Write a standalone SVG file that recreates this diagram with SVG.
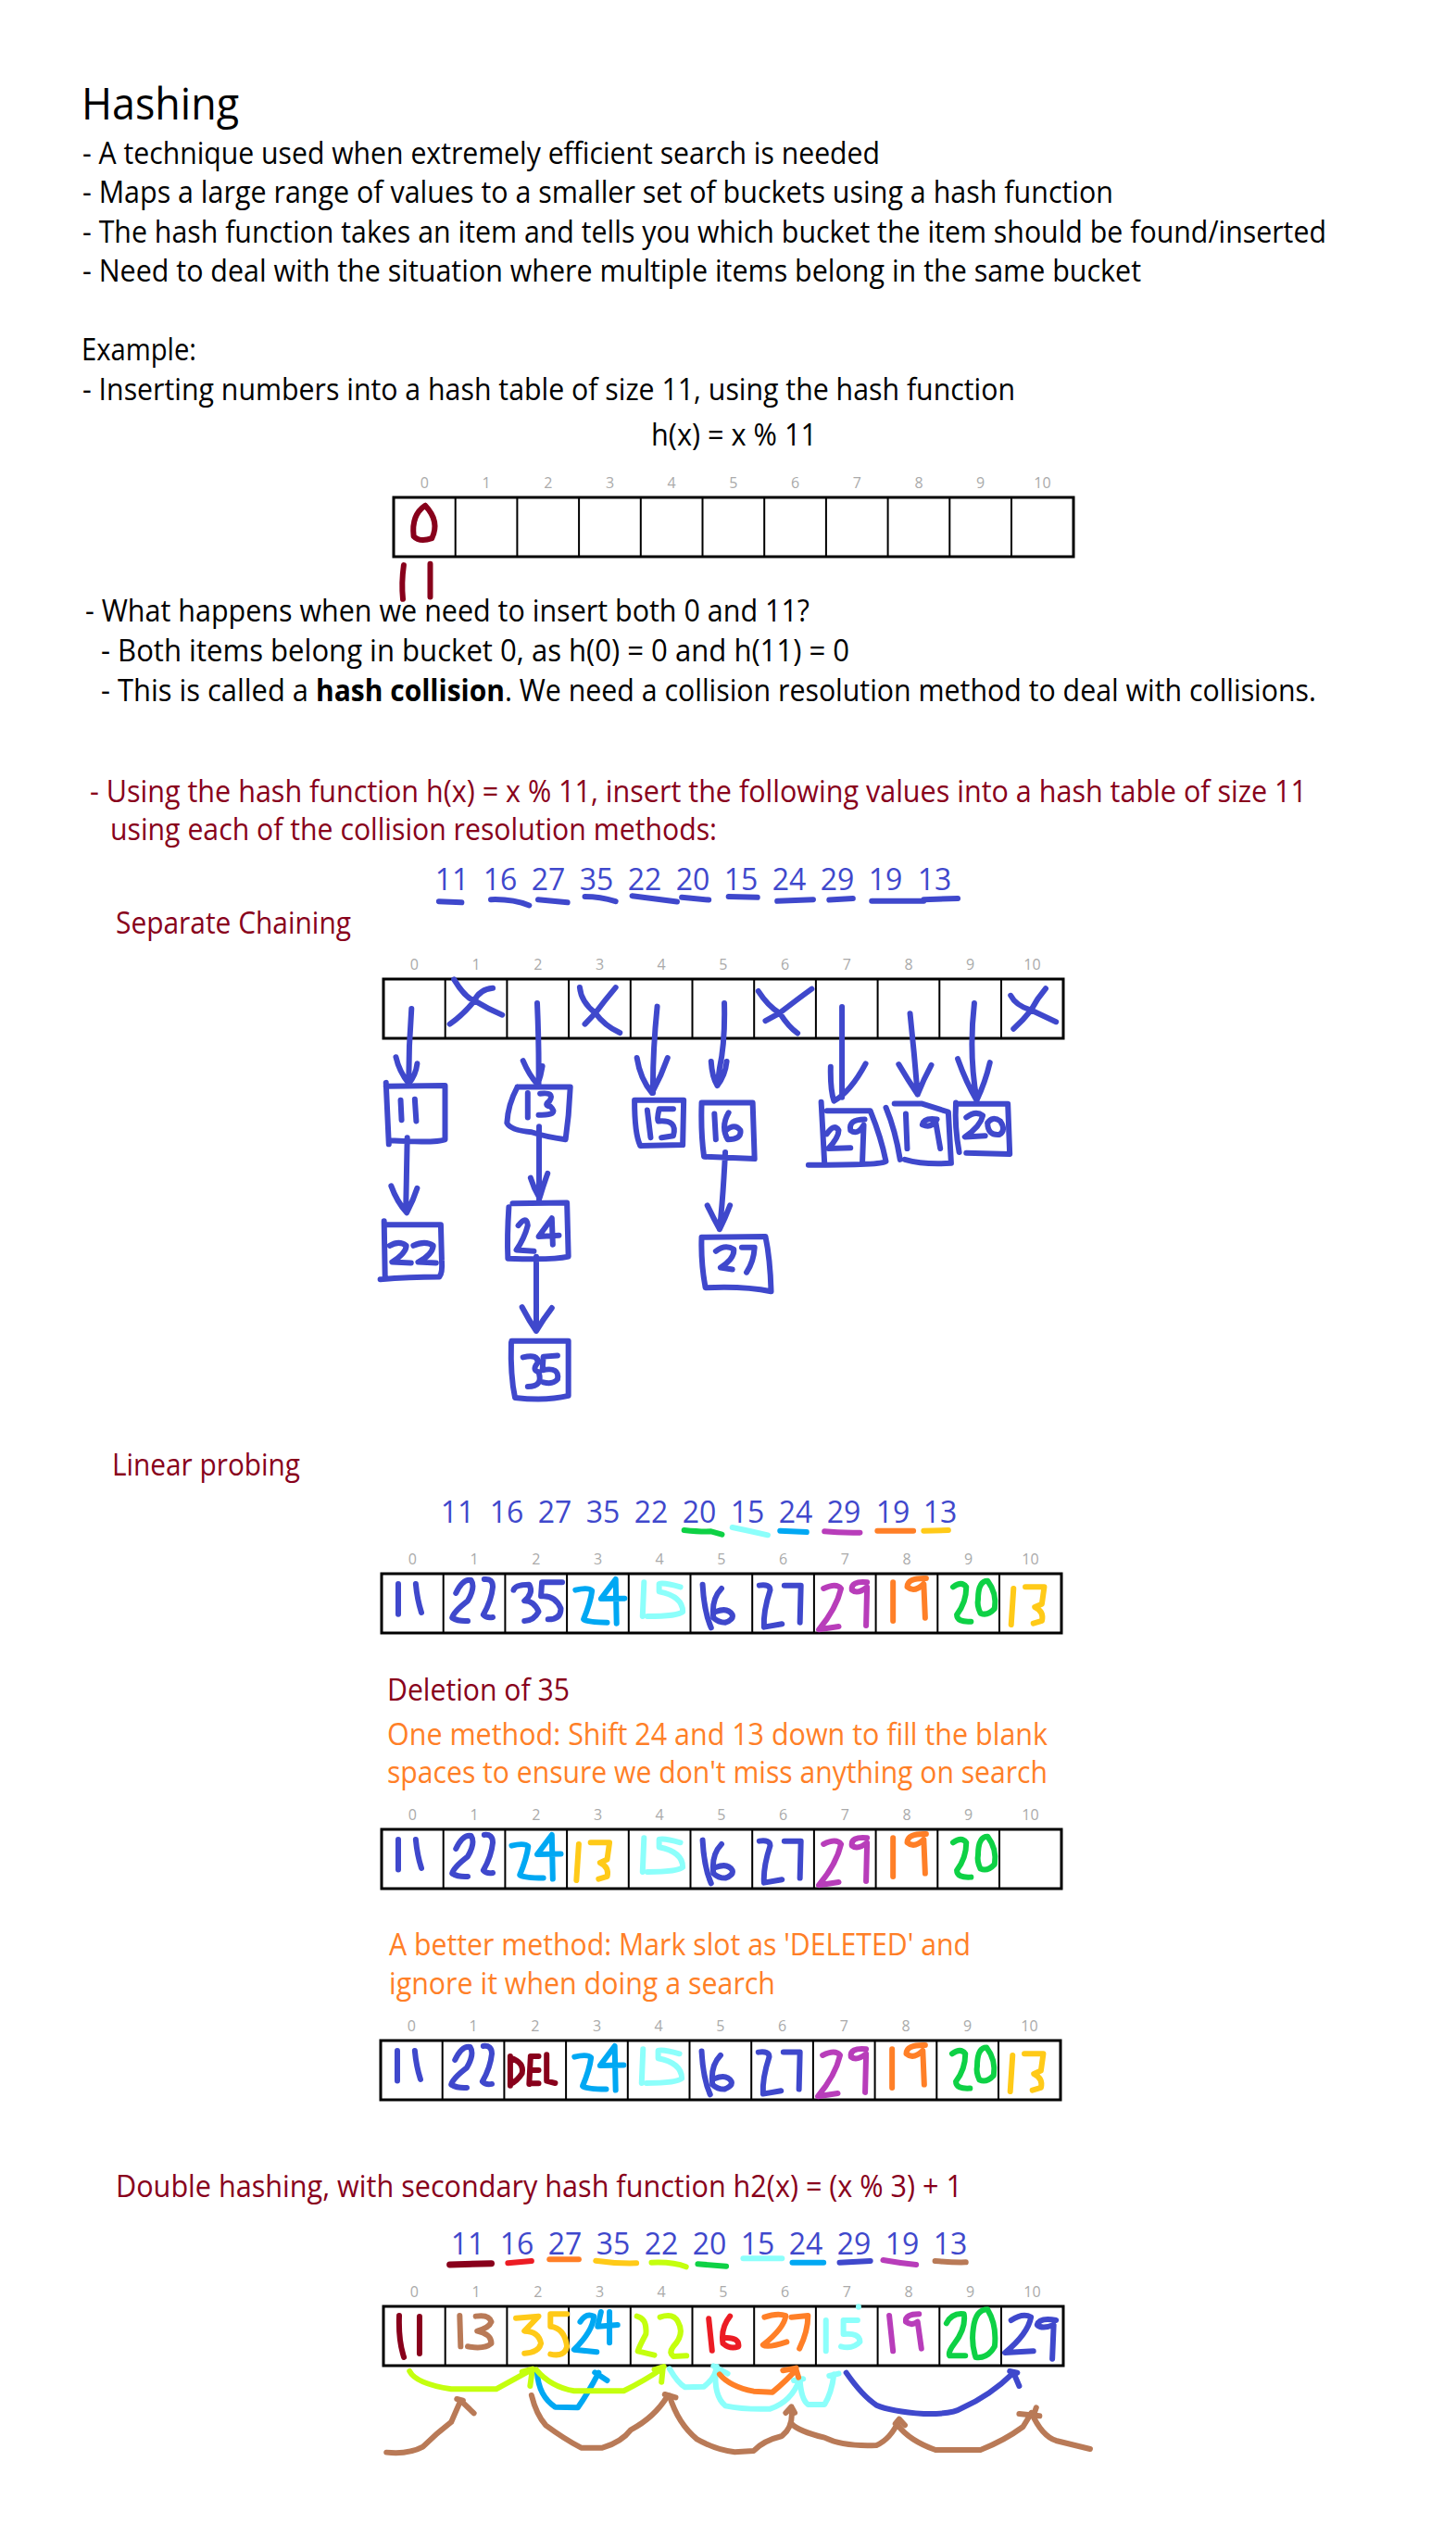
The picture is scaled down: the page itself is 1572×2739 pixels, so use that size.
<svg xmlns="http://www.w3.org/2000/svg" xmlns:xlink="http://www.w3.org/1999/xlink" width="1572" height="2739" viewBox="0 0 1572 2739">
<style>
text{font-family:"Open Sans","Noto Sans","Liberation Sans",sans-serif;font-size:32px;fill:#000}
.h{font-size:48px}
.r{fill:#88001b}
.o{fill:#ff7f27}
.n{fill:#3f48cc;text-anchor:middle}
.i{font-size:16px;fill:#aaa;text-anchor:middle}
path{fill:none;stroke-linecap:round;stroke-linejoin:round;stroke-width:6;vector-effect:non-scaling-stroke}
.tb{fill:#fff;stroke:#000;stroke-width:3}
.tl{stroke:#000;stroke-width:2;fill:none}
.B{stroke:#3f48cc}.D{stroke:#88001b}.S{stroke:#00a8f3}.C{stroke:#8cfffb}.G{stroke:#0ed145}.P{stroke:#b83dba}.O{stroke:#ff7f27}.Y{stroke:#ffca18}.L{stroke:#c4ff0e}.R{stroke:#ec1c24}.W{stroke:#b97a57}
</style>
<defs>
<g id="table">
<rect class="tb" x="0" y="0" width="734" height="64"/>
<path class="tl" d="M66.7 0V64M133.4 0V64M200.1 0V64M266.8 0V64M333.5 0V64M400.2 0V64M466.9 0V64M533.6 0V64M600.3 0V64M667 0V64" style="stroke-width:2"/>
<text class="i" x="33.4" y="-10">0</text><text class="i" x="100" y="-10">1</text><text class="i" x="166.8" y="-10">2</text><text class="i" x="233.5" y="-10">3</text><text class="i" x="300.2" y="-10">4</text><text class="i" x="366.9" y="-10">5</text><text class="i" x="433.6" y="-10">6</text><text class="i" x="500.3" y="-10">7</text><text class="i" x="567" y="-10">8</text><text class="i" x="633.7" y="-10">9</text><text class="i" x="700.4" y="-10">10</text>
</g>
<path id="n11" class="B" d="M98 390L98 488M135 390Q138 440 147 483"/>
<path id="n22" class="B" d="M220 420Q235 372 252 378Q262 400 245 445Q215 480 212 500Q225 512 245 510M280 375Q298 372 298 400Q295 445 278 490Q285 502 298 498"/>
<path id="n35" class="B" d="M342 410Q345 392 375 392Q385 420 365 445Q385 445 395 480Q385 510 365 510M445 385L402 385L400 430Q430 425 442 470Q442 505 415 505"/>
<path id="n24" class="S" d="M473 410Q500 400 508 412Q505 450 490 505Q500 515 540 515M577 437L527 438L558 375L560 518"/>
<path id="n15" class="C" d="M618 385L615 495M695 400Q660 385 650 390L650 415Q700 430 700 480Q690 495 625 495"/>
<path id="n16" class="B" d="M742 392Q745 480 760 532M782 405Q760 440 765 500Q775 515 790 515Q808 505 805 490Q795 465 770 480"/>
<path id="n27" class="B" d="M862 395Q885 390 885 410Q870 480 872 530L910 520M915 395L950 395L948 515"/>
<path id="n29" class="P" d="M998 405Q1025 385 1035 405Q1025 470 988 538L1030 528M1090 385Q1055 380 1058 410Q1070 425 1090 400L1088 525"/>
<path id="n19" class="O" d="M1145 385L1145 510M1215 372Q1175 370 1175 400Q1190 420 1210 390L1213 500"/>
<path id="n20" class="G" d="M1272 400Q1290 380 1300 400Q1300 450 1280 490Q1280 515 1310 512M1325 440Q1325 380 1345 380Q1365 420 1360 470Q1345 495 1330 485Q1322 460 1325 440"/>
<path id="n13" class="Y" d="M1400 405L1395 522M1425 400L1465 400L1460 455L1445 465Q1465 480 1460 510L1442 518"/>
</defs>
<rect width="1572" height="2739" fill="#fff"/>

<g id="intro">
<text class="h" x="88" y="129" textLength="170" lengthAdjust="spacingAndGlyphs">Hashing</text>
<text x="89" y="176.500" textLength="861" lengthAdjust="spacingAndGlyphs">- A technique used when extremely efficient search is needed</text>
<text x="89" y="218.500" textLength="1113" lengthAdjust="spacingAndGlyphs">- Maps a large range of values to a smaller set of buckets using a hash function</text>
<text x="89" y="261.500" textLength="1343" lengthAdjust="spacingAndGlyphs">- The hash function takes an item and tells you which bucket the item should be found/inserted</text>
<text x="89" y="303.500" textLength="1143" lengthAdjust="spacingAndGlyphs">- Need to deal with the situation where multiple items belong in the same bucket</text>
<text x="88" y="388.500" textLength="124" lengthAdjust="spacingAndGlyphs">Example:</text>
<text x="89" y="431.500" textLength="1007" lengthAdjust="spacingAndGlyphs">- Inserting numbers into a hash table of size 11, using the hash function</text>
<text x="703" y="480.500" textLength="179" lengthAdjust="spacingAndGlyphs">h(x) = x % 11</text>
<text x="92" y="670.500" textLength="782" lengthAdjust="spacingAndGlyphs">- What happens when we need to insert both 0 and 11?</text>
<text x="109" y="713.500" textLength="808" lengthAdjust="spacingAndGlyphs">- Both items belong in bucket 0, as h(0) = 0 and h(11) = 0</text>
<text x="109" y="756.500" textLength="224" lengthAdjust="spacingAndGlyphs">- This is called a</text>
<text x="341" y="756.500" font-weight="700" textLength="204" lengthAdjust="spacingAndGlyphs">hash collision</text>
<text x="545" y="756.500" textLength="876" lengthAdjust="spacingAndGlyphs">. We need a collision resolution method to deal with collisions.</text>
</g>

<g id="table-example">
<use xlink:href="#table" href="#table" x="425" y="537"/>
<g transform="translate(60,60) scale(.8929,.4592)">
<path class="D" d="M447 1058Q430 1080 433 1130Q440 1145 455 1135Q465 1095 447 1058M421 1198Q418 1240 420 1278M453 1195L453 1273"/>
</g>
</g>

<g id="exercise">
<text class="r" x="97" y="865.500" textLength="1314" lengthAdjust="spacingAndGlyphs">- Using the hash function h(x) = x % 11, insert the following values into a hash table of size 11</text>
<text class="r" x="119" y="906.500" textLength="655" lengthAdjust="spacingAndGlyphs">using each of the collision resolution methods:</text>
</g>

<g id="separate-chaining">
<text class="r" x="125" y="1007.500" textLength="254" lengthAdjust="spacingAndGlyphs">Separate Chaining</text>
<g>
<text class="n" x="488" y="960.500">11</text><text class="n" x="540" y="960.500">16</text><text class="n" x="592" y="960.500">27</text><text class="n" x="644" y="960.500">35</text><text class="n" x="696" y="960.500">22</text><text class="n" x="748" y="960.500">20</text><text class="n" x="800" y="960.500">15</text><text class="n" x="852" y="960.500">24</text><text class="n" x="904" y="960.500">29</text><text class="n" x="956" y="960.500">19</text><text class="n" x="1009" y="960.500">13</text>
</g>
<use xlink:href="#table" href="#table" x="414" y="1057"/>
<g transform="translate(380,900) scale(.5102,.3954)" class="hand">
<path class="B" d="M184 185L232 188M294 180Q340 178 375 196M394 180L456 188M493 172Q525 172 558 185M593 170Q640 178 688 186M698 174L755 181M797 172L858 174M900 184L976 180M1010 181L1060 177M1100 184L1210 184M1210 180L1282 177"/>
<path class="B" d="M216 398Q240 450 262 458Q290 480 318 495M298 422Q270 425 258 458Q235 495 207 520M482 420Q485 460 515 490Q535 525 567 544M558 420Q535 455 515 490L493 520M860 430Q880 470 905 490Q925 530 943 545M973 424Q945 450 905 490L875 511M1394 442Q1405 470 1437 482L1490 514M1468 423Q1450 450 1437 482Q1420 510 1400 533"/>
<path class="B" d="M126 478Q120 580 120 680M93 610Q100 650 120 682Q135 660 138 628M392 463Q396 580 395 685M362 620Q375 660 393 685Q400 660 403 635M646 472Q636 600 637 708M603 612Q610 670 635 708Q655 660 668 612M788 463Q790 570 778 640Q775 670 773 688M760 622Q762 665 773 688Q790 660 793 622M1037 473L1037 720M1013 637Q1012 700 1020 730Q1055 705 1087 628M1181 491Q1190 600 1197 712M1157 630Q1175 670 1197 712Q1210 670 1226 632M1317 463Q1305 600 1322 725M1282 615Q1300 680 1322 728Q1340 680 1350 625"/>
<path class="B" d="M72 680L78 848M72 690L197 688L197 835Q180 845 80 838M103 728L105 782M133 725L136 785M117 830L114 1030M83 962Q95 1005 116 1035Q130 1000 138 968"/>
<path class="B" d="M68 1058L70 1210M60 1217Q120 1210 185 1210Q192 1200 190 1165L188 1068L70 1068M80 1125Q100 1110 115 1125Q115 1145 85 1170L125 1172M130 1125Q155 1110 172 1125Q170 1150 140 1170L178 1172"/>
<path class="B" d="M350 692L462 692L458 770L452 835Q410 828 380 815Q335 810 328 790Q330 740 350 692M372 708L372 775M398 710Q430 705 418 730Q405 742 420 745Q440 770 395 768M396 800L396 1000M378 940Q385 970 397 995Q405 960 414 928"/>
<path class="B" d="M340 1010L455 1008L458 1155Q425 1165 330 1160Q328 1100 332 1020M352 1070Q370 1040 372 1070Q365 1105 348 1137L385 1140M438 1097L395 1100L423 1050L425 1122M390 1155L390 1355M360 1293Q375 1330 390 1358Q405 1325 423 1295"/>
<path class="B" d="M338 1385L458 1385L458 1535Q410 1550 345 1540Q335 1480 337 1390M362 1430Q395 1420 393 1445Q380 1465 395 1470Q405 1510 372 1510M435 1425L405 1428L403 1465Q440 1455 435 1490Q425 1505 405 1498"/>
<path class="B" d="M598 728L702 728L700 850L610 852Q598 820 598 728M625 755L632 830M680 752L650 752Q645 780 648 785Q690 780 680 825L655 830"/>
<path class="B" d="M740 735L848 735L852 888L745 882Q738 820 740 735M767 765L770 835M797 762Q780 800 795 835Q825 835 822 810Q810 790 792 810M790 870Q785 1000 778 1080M752 1015Q765 1050 778 1080Q790 1050 800 1015"/>
<path class="B" d="M740 1102L875 1100Q885 1160 887 1250Q830 1235 748 1240Q738 1170 740 1102M770 1140Q790 1120 808 1135Q810 1160 780 1185L805 1190M825 1130L852 1130Q850 1170 835 1198"/>
<path class="B" d="M993 733L1000 900M1005 757L1097 757Q1120 830 1130 895Q1125 905 966 905M1005 820Q1020 790 1030 810Q1030 830 1008 860L1055 858M1085 780Q1050 780 1055 810Q1070 825 1083 795L1080 900"/>
<path class="B" d="M1130 748Q1150 810 1160 890M1148 737L1205 737L1262 760L1268 900Q1210 905 1170 890M1172 765L1175 860M1238 780Q1210 775 1207 795Q1225 805 1235 785L1245 860"/>
<path class="B" d="M1278 735Q1275 800 1285 870M1282 738L1388 738L1392 875L1300 872M1300 775Q1320 755 1335 770Q1330 800 1297 828L1340 825M1345 790Q1355 770 1372 785Q1385 810 1370 822Q1345 825 1345 790"/>
</g>
</g>

<g id="linear-probing">
<text class="r" x="121" y="1592.500" textLength="203" lengthAdjust="spacingAndGlyphs">Linear probing</text>
<g>
<text class="n" x="494" y="1643.500">11</text><text class="n" x="547" y="1643.500">16</text><text class="n" x="599" y="1643.500">27</text><text class="n" x="651" y="1643.500">35</text><text class="n" x="703" y="1643.500">22</text><text class="n" x="755" y="1643.500">20</text><text class="n" x="807" y="1643.500">15</text><text class="n" x="859" y="1643.500">24</text><text class="n" x="911" y="1643.500">29</text><text class="n" x="964" y="1643.500">19</text><text class="n" x="1015" y="1643.500">13</text>
</g>
<use xlink:href="#table" href="#table" x="412" y="1699"/>
<use xlink:href="#table" href="#table" x="412" y="1975"/>
<use xlink:href="#table" href="#table" x="411" y="2203"/>
<text class="r" x="418" y="1835.500" textLength="197" lengthAdjust="spacingAndGlyphs">Deletion of 35</text>
<text class="o" x="418" y="1883.500" textLength="713" lengthAdjust="spacingAndGlyphs">One method: Shift 24 and 13 down to fill the blank</text>
<text class="o" x="418" y="1924.500" textLength="713" lengthAdjust="spacingAndGlyphs">spaces to ensure we don't miss anything on search</text>
<text class="o" x="420" y="2110.500" textLength="628" lengthAdjust="spacingAndGlyphs">A better method: Mark slot as 'DELETED' and</text>
<text class="o" x="420" y="2152.500" textLength="417" lengthAdjust="spacingAndGlyphs">ignore it when doing a search</text>
<g transform="translate(380,1580) scale(.5102,.3333)">
<path class="G" d="M703 216Q740 222 760 220L783 230"/><path class="C" d="M805 207Q840 218 880 232"/><path class="S" d="M906 218L962 222"/><path class="P" d="M1000 220Q1030 225 1075 224"/><path class="O" d="M1112 218L1188 218"/><path class="Y" d="M1210 218L1262 216"/>
<use href="#n11"/><use href="#n22"/><use href="#n35"/><use href="#n24"/><use href="#n15"/><use href="#n16"/><use href="#n27"/><use href="#n29"/><use href="#n19"/><use href="#n20"/><use href="#n13"/>
<g transform="translate(0,828)">
<use href="#n11"/><use href="#n22"/><use href="#n24" x="-135"/><use href="#n13" x="-920"/><use href="#n15"/><use href="#n16"/><use href="#n27"/><use href="#n29"/><use href="#n19"/><use href="#n20"/>
</g>
<g transform="translate(-2,1512)">
<use href="#n11"/><use href="#n22"/><use href="#n24"/><use href="#n15"/><use href="#n16"/><use href="#n27"/><use href="#n29"/><use href="#n19"/><use href="#n20"/><use href="#n13"/>
</g>
</g>
<g transform="translate(380,2050) scale(.5102,.3333)">
<path class="D" d="M335 510L335 605M335 515Q365 530 360 565Q350 590 335 600M378 510L375 600M378 510L395 510M378 555L395 555M375 598L395 598M412 505L412 590L430 597"/>
</g>
</g>

<g id="double-hashing">
<text class="r" x="125" y="2371.500" textLength="914" lengthAdjust="spacingAndGlyphs">Double hashing, with secondary hash function h2(x) = (x % 3) + 1</text>
<g>
<text class="n" x="505" y="2433.500">11</text><text class="n" x="558" y="2433.500">16</text><text class="n" x="610" y="2433.500">27</text><text class="n" x="662" y="2433.500">35</text><text class="n" x="714" y="2433.500">22</text><text class="n" x="766" y="2433.500">20</text><text class="n" x="818" y="2433.500">15</text><text class="n" x="870" y="2433.500">24</text><text class="n" x="922" y="2433.500">29</text><text class="n" x="974" y="2433.500">19</text><text class="n" x="1026" y="2433.500">13</text>
</g>
<use xlink:href="#table" href="#table" x="414" y="2490"/>
<g transform="translate(380,2370) scale(.5102,.3333)">
<path class="D" style="stroke-width:7" d="M207 225L295 221"/><path class="R" d="M330 220L380 213"/><path class="O" d="M418 208L480 208"/><path class="Y" d="M516 212Q560 222 602 220"/><path class="L" d="M634 218Q680 215 707 232"/><path class="G" d="M732 223L792 230"/><path class="C" d="M828 205L910 205"/><path class="S" d="M932 218L998 218"/><path class="B" d="M1032 218L1097 213"/><path class="P" d="M1124 210Q1160 220 1194 225"/><path class="W" d="M1234 213Q1270 218 1299 217"/>
<path class="D" d="M100 390Q98 470 110 525M143 393L143 513"/>
<path class="W" d="M228 390L230 490M262 392Q290 385 295 410Q290 430 265 440Q295 450 295 480Q280 500 245 490"/>
<path class="Y" d="M347 398L395 392L365 440Q395 440 400 480Q395 510 365 512M455 385L420 385L420 425Q450 430 455 490Q450 525 420 515"/>
<path class="S" d="M483 410Q495 380 512 392Q510 440 470 500L518 508M562 420L520 425L527 378M545 378L545 478"/>
<path class="L" d="M603 392Q625 400 622 450Q608 490 605 505L640 518M652 395Q680 380 690 410Q705 450 680 490Q670 510 680 522L708 520"/>
<path class="R" d="M755 400L762 503M800 392Q780 430 785 480Q800 500 818 490Q820 460 790 462"/>
<path class="O" d="M873 395Q900 380 918 390Q915 430 870 485Q880 495 920 475M930 395L965 390Q965 440 947 497"/>
<path class="C" d="M1003 405L1003 505M1070 405L1040 405L1040 450Q1075 445 1075 475Q1060 500 1035 490M1072 361L1072 362"/>
<path class="P" d="M1137 390L1145 505M1200 385Q1170 385 1172 410Q1185 425 1197 410L1205 497"/>
<path class="G" d="M1258 415Q1270 380 1295 385Q1300 430 1275 480Q1260 510 1265 520L1298 520M1315 430Q1320 370 1345 370Q1365 420 1360 490Q1345 530 1320 525Q1310 480 1315 430"/>
<path class="B" d="M1395 405Q1420 380 1437 395Q1430 450 1382 510L1442 505M1490 405Q1455 395 1450 420Q1460 435 1485 420L1482 530"/>
</g>
<g id="connectors" transform="translate(380,2370) scale(.5102,.3333)">
<path class="L" d="M122 570Q135 610 210 628L305 628L380 565M360 572L382 563L377 618"/>
<path class="S" d="M392 575Q395 650 430 686L478 688Q500 640 522 575M514 574L540 600"/>
<path class="L" d="M390 565Q420 620 470 634L575 634Q620 600 658 560L655 605M640 565L660 555"/>
<path class="C" d="M672 562Q690 610 705 622L745 620Q770 590 772 555M765 553L795 578"/>
<path class="C" d="M770 565Q765 650 790 682Q830 695 885 692Q930 670 948 595M935 600L955 595"/>
<path class="C" d="M948 595Q950 660 965 678L1000 678Q1015 640 1020 580M1010 585L1030 578"/>
<path class="O" d="M778 580Q800 620 850 635L890 638Q920 600 940 565L945 590M912 568L940 560"/>
<path class="B" d="M1046 575Q1080 650 1110 680Q1140 700 1210 708Q1270 710 1290 690Q1350 650 1400 575L1412 618M1392 570L1408 575"/>
<path class="W" d="M73 833Q120 840 150 815Q180 770 210 735L230 665L258 706M222 660L235 665"/>
<path class="W" d="M380 648Q390 710 410 745Q450 790 485 818L530 818Q570 800 590 760Q640 720 668 650M662 645L685 655"/>
<path class="W" d="M672 650Q690 740 730 790Q770 825 810 832L850 828Q870 795 910 780Q935 750 930 690M918 705L930 685L937 705"/>
<path class="W" d="M930 740Q945 765 1000 785Q1040 815 1110 810Q1140 790 1158 728M1150 740L1158 725L1170 745"/>
<path class="W" d="M1155 745Q1180 795 1235 825L1330 825Q1380 795 1420 750L1438 705M1412 708L1455 715M1448 688L1443 710"/>
<path class="W" d="M1438 705Q1460 780 1490 795Q1530 810 1562 822"/>
</g>
</g>
</svg>
